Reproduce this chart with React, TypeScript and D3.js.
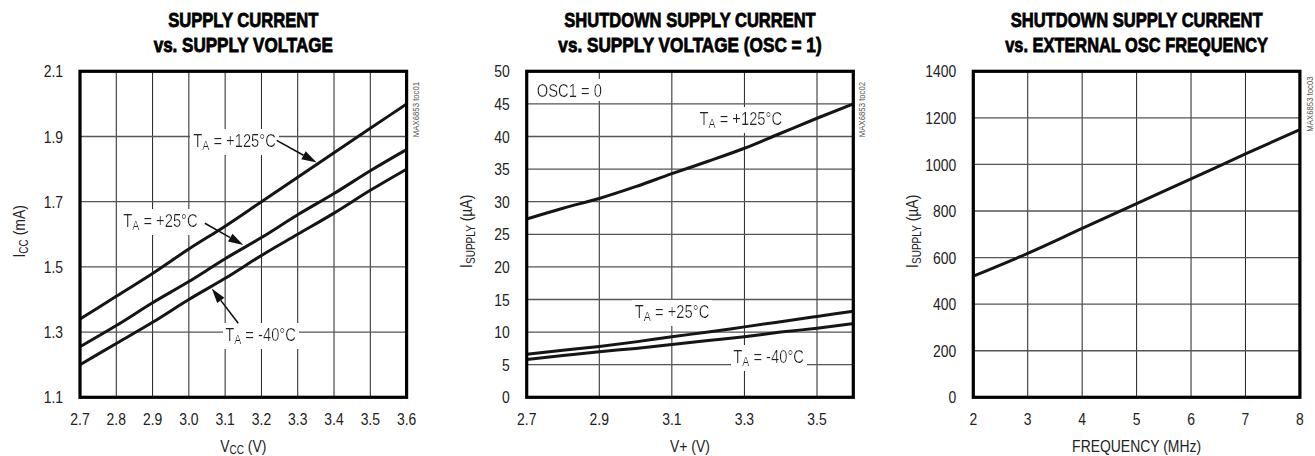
import * as d3 from "d3";

const FONT = "'Liberation Sans', Arial, sans-serif";
const NARROW = 0.82;

// chart 1: supply current vs supply voltage
const vcc = [2.7, 2.8, 2.9, 3.0, 3.1, 3.2, 3.3, 3.4, 3.5, 3.6];
const icc125 = [1.34, 1.41, 1.48, 1.555, 1.625, 1.7, 1.775, 1.85, 1.925, 2.0];
const icc25 = [1.255, 1.32, 1.39, 1.455, 1.525, 1.59, 1.66, 1.725, 1.795, 1.86];
const iccM40 = [1.2, 1.265, 1.33, 1.4, 1.465, 1.535, 1.6, 1.665, 1.735, 1.8];
const c1XTicks = [2.7, 2.8, 2.9, 3.0, 3.1, 3.2, 3.3, 3.4, 3.5, 3.6];
const c1YTicks = [1.1, 1.3, 1.5, 1.7, 1.9, 2.1];
const c1Notes = [
  { label: "+125°C", x: 3.012, y: 1.869 },
  { label: "+25°C", x: 2.819, y: 1.623 },
  { label: "-40°C", x: 3.1, y: 1.274 },
];
const c1Arrows = [
  { from: [3.242, 1.888], to: [3.352, 1.82] },
  { from: [3.044, 1.634], to: [3.15, 1.567] },
  { from: [3.136, 1.327], to: [3.063, 1.434] },
];

// chart 2: shutdown supply current vs supply voltage
const vPlus = [2.7, 2.8, 2.9, 3.0, 3.1, 3.2, 3.3, 3.4, 3.5, 3.6];
const shdn125 = [27.35, 29.0, 30.5, 32.3, 34.3, 36.2, 38.2, 40.5, 42.8, 45.0];
const shdn25 = [6.6, 7.2, 7.8, 8.5, 9.3, 10.0, 10.8, 11.6, 12.4, 13.2];
const shdnM40 = [5.8, 6.4, 7.0, 7.5, 8.1, 8.7, 9.3, 10.0, 10.6, 11.3];
const c2XGrid = [2.9, 3.1, 3.3, 3.5];
const c2XTicks = [2.7, 2.9, 3.1, 3.3, 3.5];
const c2YTicks = [0, 5, 10, 15, 20, 25, 30, 35, 40, 45, 50];
const c2Notes = [
  { label: "+125°C", x: 3.176, y: 41.76 },
  { label: "+25°C", x: 2.998, y: 12.1 },
  { label: "-40°C", x: 3.269, y: 5.26 },
];

// chart 3: shutdown supply current vs external osc frequency
const freq = [2, 3, 4, 5, 6, 7, 8];
const iFreq = [520, 618, 725, 832, 938, 1045, 1150];
const c3XTicks = [2, 3, 4, 5, 6, 7, 8];
const c3YTicks = [0, 200, 400, 600, 800, 1000, 1200, 1400];

const TOP = 71.3;
const W = 326.6;
const H = 326;

const measureCtx = document.createElement("canvas").getContext("2d");
function textWidth(s: string, font: string) {
  if (!measureCtx) return 0;
  measureCtx.font = font;
  return measureCtx.measureText(s).width;
}

const sub = (main: string, low: string, rest: string, fs: number) => (
  <>
    <tspan>{main}</tspan>
    <tspan fontSize={fs * 0.72} dy={fs * 0.17}>{low}</tspan>
    <tspan dy={-fs * 0.17}>{rest}</tspan>
  </>
);

// narrow text: Liberation Sans squeezed horizontally, like a condensed face
function NText({ x, y, rotate = 0, children, ...rest }: any) {
  return (
    <text transform={`translate(${x},${y}) rotate(${rotate}) scale(${NARROW},1)`} {...rest}>
      {children}
    </text>
  );
}

function Title({ cx, y, text, width }: any) {
  const fs = 20.5;
  const natural = textWidth(text, `bold ${fs}px "Liberation Sans"`) || width;
  return (
    <text transform={`translate(${cx},${y}) scale(${width / natural},1)`} textAnchor="middle"
      fontWeight="bold" fontSize={fs} stroke="#000" strokeWidth={0.8}>{text}</text>
  );
}

function Panel(props: any) {
  const { left, xDomain, yDomain, xGrid, xTicks, xFmt, yTicks, yFmt, title, series, notes, arrows, xLabel, yLabel, toc, freeNote } = props;
  const x = d3.scaleLinear().domain(xDomain).range([left, left + W]);
  const y = d3.scaleLinear().domain(yDomain).range([TOP + H, TOP]);
  const line = d3.line<number[]>().x(d => x(d[0])).y(d => y(d[1])).curve(d3.curveMonotoneX);
  const cx = left + W / 2;
  const fsNote = 18;

  return (
    <g fontFamily={FONT}>
      {title.map((t: [string, number], i: number) => (
        <Title key={i} cx={cx} y={27.3 + i * 25} text={t[0]} width={t[1]} />
      ))}
      {xGrid.map((v: number) => (
        <line key={"vx" + v} x1={x(v)} x2={x(v)} y1={TOP} y2={TOP + H} stroke="#222" strokeWidth={1} />
      ))}
      {yTicks.map((v: number) => (
        <line key={"hy" + v} x1={left} x2={left + W} y1={y(v)} y2={y(v)} stroke="#555" strokeWidth={1.3} />
      ))}
      {freeNote && (
        <NText x={x(freeNote.x)} y={y(freeNote.y)} fontSize={fsNote} fill="#222" filter="url(#whitebg)">{freeNote.label}</NText>
      )}
      {notes.map((n: any, i: number) => (
        <NText key={"n" + i} x={x(n.x)} y={y(n.y)} fontSize={fsNote} fill="#222" filter="url(#whitebg)">
          {sub("T", "A", ` = ${n.label}`, fsNote)}
        </NText>
      ))}
      {series.map((s: any, i: number) => (
        <path key={"s" + i} d={line(s.xs.map((v: number, j: number) => [v, s.ys[j]])) as string}
          fill="none" stroke="#151515" strokeWidth={3} />
      ))}
      {arrows.map((a: any, i: number) => {
        const x0 = x(a.from[0]), y0 = y(a.from[1]), x1 = x(a.to[0]), y1 = y(a.to[1]);
        const ang = Math.atan2(y1 - y0, x1 - x0);
        const len = 15, half = 4.5;
        const bx = x1 - len * Math.cos(ang), by = y1 - len * Math.sin(ang);
        const px = -Math.sin(ang) * half, py = Math.cos(ang) * half;
        return (
          <g key={"a" + i}>
            <line x1={x0} y1={y0} x2={bx} y2={by} stroke="#111" strokeWidth={1.6} />
            <polygon points={`${x1},${y1} ${bx + px},${by + py} ${bx - px},${by - py}`} fill="#111" />
          </g>
        );
      })}
      <rect x={left} y={TOP} width={W} height={H} fill="none" stroke="#000" strokeWidth={3.2} />
      {xTicks.map((v: number) => (
        <NText key={"xt" + v} x={x(v)} y={TOP + H + 28} textAnchor="middle" fontSize={17} fill="#222">{d3.format(xFmt)(v)}</NText>
      ))}
      {yTicks.map((v: number) => (
        <NText key={"yt" + v} x={left - 17} y={y(v)} dy="0.36em" textAnchor="end" fontSize={17} fill="#222">{d3.format(yFmt)(v)}</NText>
      ))}
      <NText x={cx} y={451.5} textAnchor="middle" fontSize={17} fill="#222">{xLabel}</NText>
      <NText x={left - 55} y={TOP + H / 2 - 3} rotate={-90} textAnchor="middle" fontSize={17} fill="#222">{yLabel}</NText>
      <NText x={toc.x} y={toc.y} rotate={-90} textAnchor="middle" fontSize={9.5} fill="#555">{toc.text}</NText>
    </g>
  );
}

export default function App() {
  return (
    <svg width={1315} height={456} style={{ position: "absolute", left: 0, top: 0, background: "#fff" }}>
      <defs>
        <filter id="whitebg" x="-0.03" y="-0.05" width="1.06" height="1.1">
          <feFlood floodColor="white" />
          <feComposite in="SourceGraphic" operator="over" />
        </filter>
      </defs>
      <Panel
        left={80}
        xDomain={[2.7, 3.6]}
        yDomain={[1.1, 2.1]}
        xGrid={c1XTicks}
        xTicks={c1XTicks}
        xFmt=".1f"
        yTicks={c1YTicks}
        yFmt=".1f"
        title={[["SUPPLY CURRENT", 150.7], ["vs. SUPPLY VOLTAGE", 179.7]]}
        series={[{ xs: vcc, ys: icc125 }, { xs: vcc, ys: icc25 }, { xs: vcc, ys: iccM40 }]}
        notes={c1Notes}
        arrows={c1Arrows}
        xLabel={sub("V", "CC", " (V)", 17)}
        yLabel={sub("I", "CC", " (mA)", 17)}
        toc={{ x: 419, y: 109.5, text: "MAX6853 toc01" }}
      />
      <Panel
        left={526.7}
        xDomain={[2.7, 3.6]}
        yDomain={[0, 50]}
        xGrid={c2XGrid}
        xTicks={c2XTicks}
        xFmt=".1f"
        yTicks={c2YTicks}
        yFmt="d"
        title={[["SHUTDOWN SUPPLY CURRENT", 251.7], ["vs. SUPPLY VOLTAGE (OSC = 1)", 263.7]]}
        series={[{ xs: vPlus, ys: shdn125 }, { xs: vPlus, ys: shdn25 }, { xs: vPlus, ys: shdnM40 }]}
        notes={c2Notes}
        freeNote={{ label: "OSC1 = 0", x: 2.7276, y: 46.1 }}
        arrows={[]}
        xLabel="V+ (V)"
        yLabel={sub("I", "SUPPLY", " (µA)", 17)}
        toc={{ x: 865, y: 109.5, text: "MAX6853 toc02" }}
      />
      <Panel
        left={973.3}
        xDomain={[2, 8]}
        yDomain={[0, 1400]}
        xGrid={c3XTicks}
        xTicks={c3XTicks}
        xFmt="d"
        yTicks={c3YTicks}
        yFmt="d"
        title={[["SHUTDOWN SUPPLY CURRENT", 252.3], ["vs. EXTERNAL OSC FREQUENCY", 263.3]]}
        series={[{ xs: freq, ys: iFreq }]}
        notes={[]}
        arrows={[]}
        xLabel="FREQUENCY (MHz)"
        yLabel={sub("I", "SUPPLY", " (µA)", 17)}
        toc={{ x: 1312.5, y: 104, text: "MAX6853 toc03" }}
      />
    </svg>
  );
}
